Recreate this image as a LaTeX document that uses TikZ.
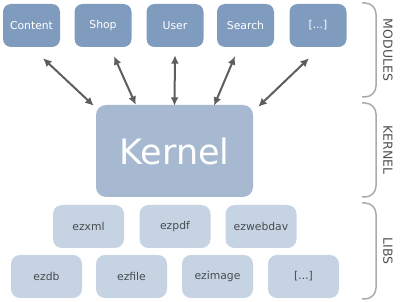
\documentclass[tikz,border=0pt]{standalone}
\usepackage{fontspec}
\setmainfont{DejaVu Sans}
\usetikzlibrary{arrows.meta,calc}
\definecolor{modc}{HTML}{7F9CBF}
\definecolor{kerc}{HTML}{A6B9D0}
\definecolor{libc}{HTML}{C6D3E3}
\definecolor{libtxt}{HTML}{474B50}
\definecolor{arrc}{HTML}{5E5E5E}
\definecolor{brkc}{HTML}{ABABAB}
\definecolor{labc}{HTML}{505050}
\tikzset{
  modbox/.style={rounded corners=8pt, fill=modc, minimum width=57pt, minimum height=43pt, inner sep=0pt, text=white, font=\fontsize{10.8}{12}\selectfont},
  kerbox/.style={rounded corners=10pt, fill=kerc, minimum width=157pt, minimum height=92pt, inner sep=0pt, text=white, font=\fontsize{35}{40}\selectfont},
  libbox/.style={rounded corners=9pt, fill=libc, minimum width=71pt, minimum height=43pt, inner sep=0pt, text=libtxt, font=\fontsize{10.8}{12}\selectfont},
  conn/.style={draw=arrc, line width=2pt, {Latex[length=8.5pt,width=8pt]}-{Latex[length=8.5pt,width=8pt]}},
  brk/.style={draw=brkc, line width=1.5pt, rounded corners=11pt},
  sidelab/.style={text=labc, rotate=-90, font=\fontsize{12.5}{14}\selectfont}
}
\begin{document}
\begin{tikzpicture}[x=1pt,y=-1pt]
\useasboundingbox (0,0) rectangle (400,302);
% modules
\node[modbox] (content) at (31.5,25.5) {Content};
\node[modbox] (shop) at (103,25.5) {Shop};
\node[modbox] (user) at (175,25.5) {User};
\node[modbox] (search) at (245.5,25.5) {Search};
\node[modbox] (more) at (318,25.5) {[...]};
% kernel
\node[kerbox] (kernel) at (174.5,151) {Kernel};
% libs
\node[libbox] (ezxml) at (88.5,226.5) {ezxml};
\node[libbox] (ezpdf) at (175,226.5) {ezpdf};
\node[libbox] (ezwebdav) at (261,226.5) {ezwebdav};
\node[libbox] (ezdb) at (46.5,276.5) {ezdb};
\node[libbox] (ezfile) at (131.5,276.5) {ezfile};
\node[libbox] (ezimage) at (217.5,276.5) {ezimage};
\node[libbox] (libmore) at (303.5,276.5) {[...]};
% connectors
\draw[conn] ($(content.south)+(11.5,11)$) -- ($(kernel.north west)+(-2,1)$);
\draw[conn] ($(shop.south)+(11,9)$) -- ($(kernel.north west)+(40,0)$);
\draw[conn] ($(user.south)+(0,8)$) -- ($(kernel.north)+(0,1)$);
\draw[conn] ($(search.south)+(-10.5,9)$) -- ($(kernel.north)+(39.5,1)$);
\draw[conn] ($(more.south)+(-9,11)$) -- ($(kernel.north east)+(5,2)$);
% brackets
\draw[brk] (362,3) -- (376,3) -- (376,97) -- (362,97);
\draw[brk] (362,103) -- (376,103) -- (376,197) -- (362,197);
\draw[brk] (362,203) -- (376,203) -- (376,299) -- (362,299);
% labels
\node[sidelab] (lmod) at (388,50) {MODULES};
\node[sidelab] (lker) at (388,150) {KERNEL};
\node[sidelab] (llib) at (388,251) {LIBS};
\end{tikzpicture}
\end{document}
